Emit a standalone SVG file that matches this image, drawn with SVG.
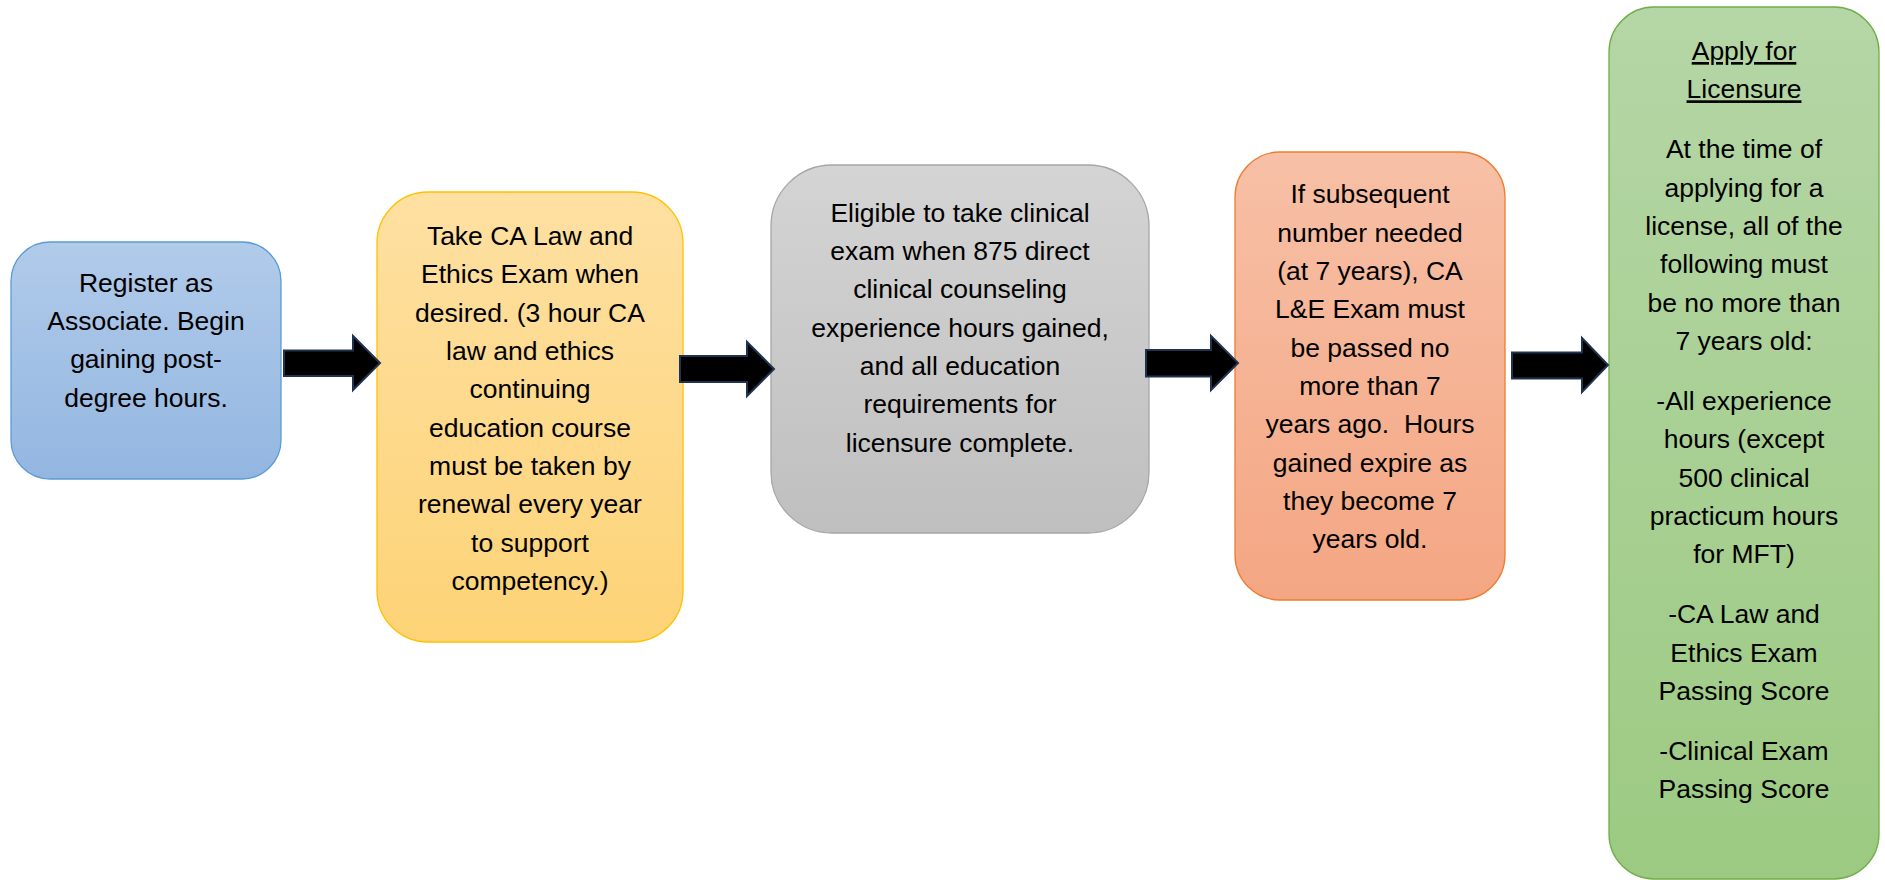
<svg xmlns="http://www.w3.org/2000/svg" width="1885" height="880" viewBox="0 0 1885 880">
<defs>
<linearGradient id="gBlue" x1="0" y1="0" x2="0" y2="1"><stop offset="0" stop-color="#b1cbea"/><stop offset="1" stop-color="#93b6e1"/></linearGradient>
<linearGradient id="gYellow" x1="0" y1="0" x2="0" y2="1"><stop offset="0" stop-color="#fee0a2"/><stop offset="1" stop-color="#fdd376"/></linearGradient>
<linearGradient id="gGray" x1="0" y1="0" x2="0" y2="1"><stop offset="0" stop-color="#d4d4d4"/><stop offset="1" stop-color="#bfbfbf"/></linearGradient>
<linearGradient id="gOrange" x1="0" y1="0" x2="0" y2="1"><stop offset="0" stop-color="#f7c0a6"/><stop offset="1" stop-color="#f4a683"/></linearGradient>
<linearGradient id="gGreen" x1="0" y1="0" x2="0" y2="1"><stop offset="0" stop-color="#b5d6a6"/><stop offset="1" stop-color="#9cca82"/></linearGradient>
</defs>
<style>
text{font-family:"Liberation Sans",Arial,sans-serif;font-size:26.5px;fill:#000;text-anchor:middle}
.box{stroke-width:1.3}
.arrow{fill:#000;stroke:#1f3250;stroke-width:2;stroke-linejoin:miter}
.u{text-decoration:underline}
</style>
<g id="node-register">
<rect class="box" x="11" y="242" width="270" height="237" rx="39" ry="39" fill="url(#gBlue)" stroke="#5b9bd5"/>
<text x="146" y="292">Register as</text>
<text x="146" y="330">Associate. Begin</text>
<text x="146" y="368">gaining post-</text>
<text x="146" y="407">degree hours.</text>
</g>
<g id="node-lawethics">
<rect class="box" x="377" y="192" width="306" height="450" rx="51" ry="51" fill="url(#gYellow)" stroke="#ffc000"/>
<text x="530" y="245">Take CA Law and</text>
<text x="530" y="283.3">Ethics Exam when</text>
<text x="530" y="321.7">desired. (3 hour CA</text>
<text x="530" y="360">law and ethics</text>
<text x="530" y="398.3">continuing</text>
<text x="530" y="436.7">education course</text>
<text x="530" y="475">must be taken by</text>
<text x="530" y="513.3">renewal every year</text>
<text x="530" y="551.7">to support</text>
<text x="530" y="590">competency.)</text>
</g>
<g id="node-clinical">
<rect class="box" x="771" y="165" width="378" height="368" rx="61" ry="61" fill="url(#gGray)" stroke="#a5a5a5"/>
<text x="960" y="221.7">Eligible to take clinical</text>
<text x="960" y="260">exam when 875 direct</text>
<text x="960" y="298.3">clinical counseling</text>
<text x="960" y="336.7">experience hours gained,</text>
<text x="960" y="375">and all education</text>
<text x="960" y="413.3">requirements for</text>
<text x="960" y="451.7">licensure complete.</text>
</g>
<g id="node-subsequent">
<rect class="box" x="1235" y="152" width="270" height="448" rx="45" ry="45" fill="url(#gOrange)" stroke="#ed7d31"/>
<text x="1370" y="203.3">If subsequent</text>
<text x="1370" y="241.7">number needed</text>
<text x="1370" y="280">(at 7 years), CA</text>
<text x="1370" y="318.3">L&amp;E Exam must</text>
<text x="1370" y="356.7">be passed no</text>
<text x="1370" y="395">more than 7</text>
<text x="1370" y="433.3" xml:space="preserve">years ago.  Hours</text>
<text x="1370" y="471.7">gained expire as</text>
<text x="1370" y="510">they become 7</text>
<text x="1370" y="548.3">years old.</text>
</g>
<g id="node-apply">
<rect class="box" x="1609" y="7" width="270" height="872" rx="45" ry="45" fill="url(#gGreen)" stroke="#70ad47"/>
<text class="u" x="1744" y="60">Apply for</text>
<text class="u" x="1744" y="98.3">Licensure</text>
<text x="1744" y="158.3">At the time of</text>
<text x="1744" y="196.7">applying for a</text>
<text x="1744" y="235">license, all of the</text>
<text x="1744" y="273.3">following must</text>
<text x="1744" y="311.7">be no more than</text>
<text x="1744" y="350">7 years old:</text>
<text x="1744" y="410">-All experience</text>
<text x="1744" y="448.3">hours (except</text>
<text x="1744" y="486.7">500 clinical</text>
<text x="1744" y="525">practicum hours</text>
<text x="1744" y="563.3">for MFT)</text>
<text x="1744" y="623.3">-CA Law and</text>
<text x="1744" y="661.7">Ethics Exam</text>
<text x="1744" y="700">Passing Score</text>
<text x="1744" y="760">-Clinical Exam</text>
<text x="1744" y="798.3">Passing Score</text>
</g>
<g id="connectors">
<path class="arrow" d="M284,350.5 H353 V336 L380,363 L353,390 V376 H284 Z"/>
<path class="arrow" d="M680,356 H747 V342 L774,369 L747,396 V382 H680 Z"/>
<path class="arrow" d="M1146,350 H1211 V336 L1238,363 L1211,390 V376.5 H1146 Z"/>
<path class="arrow" d="M1512,352.5 H1582 V338 L1608,365 L1582,392 V378.5 H1512 Z"/>
</g>
</svg>
